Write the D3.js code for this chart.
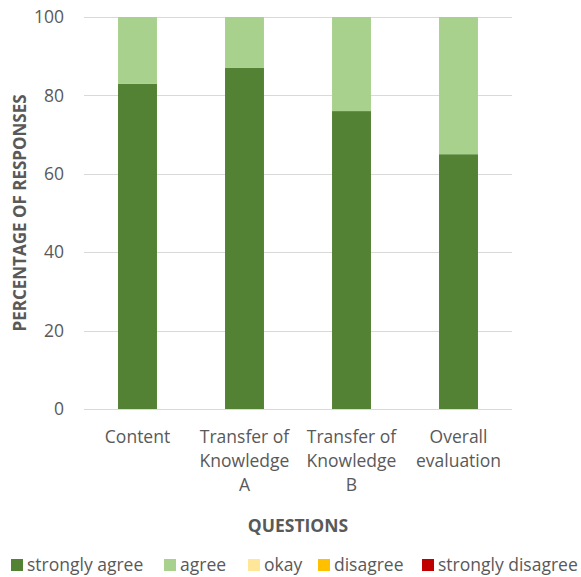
<!DOCTYPE html>
<html>
<head>
<meta charset="utf-8">
<script src="https://cdn.jsdelivr.net/npm/d3@7"></script>
<style>
  body { margin: 0; background: #fff; }
  text { font-family: "Open Sans", sans-serif; fill: #595959; }
</style>
</head>
<body>
<div class="chart-container"></div>
<script>
// Data
const categories = ["Content", "Transfer of Knowledge A", "Transfer of Knowledge B", "Overall evaluation"];
const seriesNames = ["strongly agree", "agree", "okay", "disagree", "strongly disagree"];
const stronglyAgree = [83, 87, 76, 65];
const agree = [17, 13, 24, 35];
const okay = [0, 0, 0, 0];
const disagree = [0, 0, 0, 0];
const stronglyDisagree = [0, 0, 0, 0];
const yTicks = [0, 20, 40, 60, 80, 100];

const colors = ["#548235", "#a9d18e", "#ffe699", "#ffc000", "#c00000"];

// Dimensions
const W = 581, H = 577;
const margin = { top: 17, right: 69, bottom: 168, left: 84 },
    width = W - margin.left - margin.right,
    height = H - margin.top - margin.bottom;

const svg = d3.select('.chart-container')
    .append('svg')
        .attr('width', W)
        .attr('height', H);

const g = svg.append('g').attr('transform', `translate(${margin.left},${margin.top})`);

// Table for the stack.
const table = categories.map((c, i) => ({
    category: c,
    "strongly agree": stronglyAgree[i],
    "agree": agree[i],
    "okay": okay[i],
    "disagree": disagree[i],
    "strongly disagree": stronglyDisagree[i]
}));
const stacked = d3.stack().keys(seriesNames)(table);

// Scales
const x = d3.scaleBand()
    .domain(categories)
    .range([0, width])
    .paddingInner(0.636)
    .paddingOuter(0.318);
const y = d3.scaleLinear().domain([0, 100]).range([height, 0]);
const color = d3.scaleOrdinal().domain(seriesNames).range(colors);

// Gridlines
g.append('g').attr('class', 'grid')
    .selectAll('line')
    .data(yTicks)
    .join('line')
        .attr('x1', 0)
        .attr('x2', width)
        .attr('y1', d => Math.round(y(d)) + 0.5)
        .attr('y2', d => Math.round(y(d)) + 0.5)
        .attr('stroke', '#d9d9d9')
        .attr('stroke-width', 1);

// Bars
g.append('g').attr('class', 'bars')
    .selectAll('g')
    .data(stacked)
    .join('g')
        .attr('fill', d => color(d.key))
    .selectAll('rect')
    .data(d => d)
    .join('rect')
        .attr('x', d => x(d.data.category))
        .attr('width', x.bandwidth())
        .attr('y', d => y(d[1]))
        .attr('height', d => y(d[0]) - y(d[1]));

// Y axis (labels only)
const yAxis = g.append('g')
    .attr('transform', 'translate(-20,0)')
    .call(d3.axisLeft(y).tickValues(yTicks).tickSize(0).tickPadding(0));
yAxis.select('.domain').remove();
yAxis.selectAll('text')
    .attr('font-size', 17.5)
    .attr('font-family', '"Open Sans", sans-serif')
    .attr('fill', '#595959');

// X axis labels, wrapped
const xAxis = g.append('g')
    .attr('transform', `translate(0,${height})`)
    .call(d3.axisBottom(x).tickSize(0).tickPadding(0));
xAxis.select('.domain').remove();
xAxis.selectAll('text')
    .attr('font-size', 17.5)
    .attr('font-family', '"Open Sans", sans-serif')
    .attr('fill', '#595959')
    .attr('dy', null)
    .attr('y', 34)
    .call(wrap, 95);

function wrap(texts, maxWidth) {
    texts.each(function () {
        const text = d3.select(this);
        const words = text.text().split(/\s+/);
        const yy = text.attr('y');
        let line = [];
        let lineNo = 0;
        text.text(null);
        let tspan = text.append('tspan').attr('x', 0).attr('y', yy);
        words.forEach(w => {
            line.push(w);
            tspan.text(line.join(' '));
            if (tspan.node().getComputedTextLength() > maxWidth && line.length > 1) {
                line.pop();
                tspan.text(line.join(' '));
                line = [w];
                lineNo++;
                tspan = text.append('tspan').attr('x', 0).attr('y', +yy + lineNo * 24).text(w);
            }
        });
    });
}

// Axis titles
svg.append('text')
    .attr('transform', `translate(26,${margin.top + height / 2}) rotate(-90)`)
    .attr('text-anchor', 'middle')
    .attr('font-size', 17)
    .attr('font-weight', 'bold')
    .text('PERCENTAGE OF RESPONSES');

svg.append('text')
    .attr('x', margin.left + width / 2)
    .attr('y', 532)
    .attr('text-anchor', 'middle')
    .attr('font-size', 17.5)
    .attr('font-weight', 'bold')
    .text('QUESTIONS');

// Legend
const legendX = [11, 164, 248, 318, 422];
const legend = svg.append('g').attr('class', 'legend')
    .selectAll('g')
    .data(seriesNames)
    .join('g')
        .attr('transform', (d, i) => `translate(${legendX[i]},559)`);
legend.append('rect')
    .attr('width', 12)
    .attr('height', 12)
    .attr('fill', d => color(d));
legend.append('text')
    .attr('x', 16)
    .attr('y', 12)
    .attr('font-size', 17.5)
    .text(d => d);
</script>
</body>
</html>
